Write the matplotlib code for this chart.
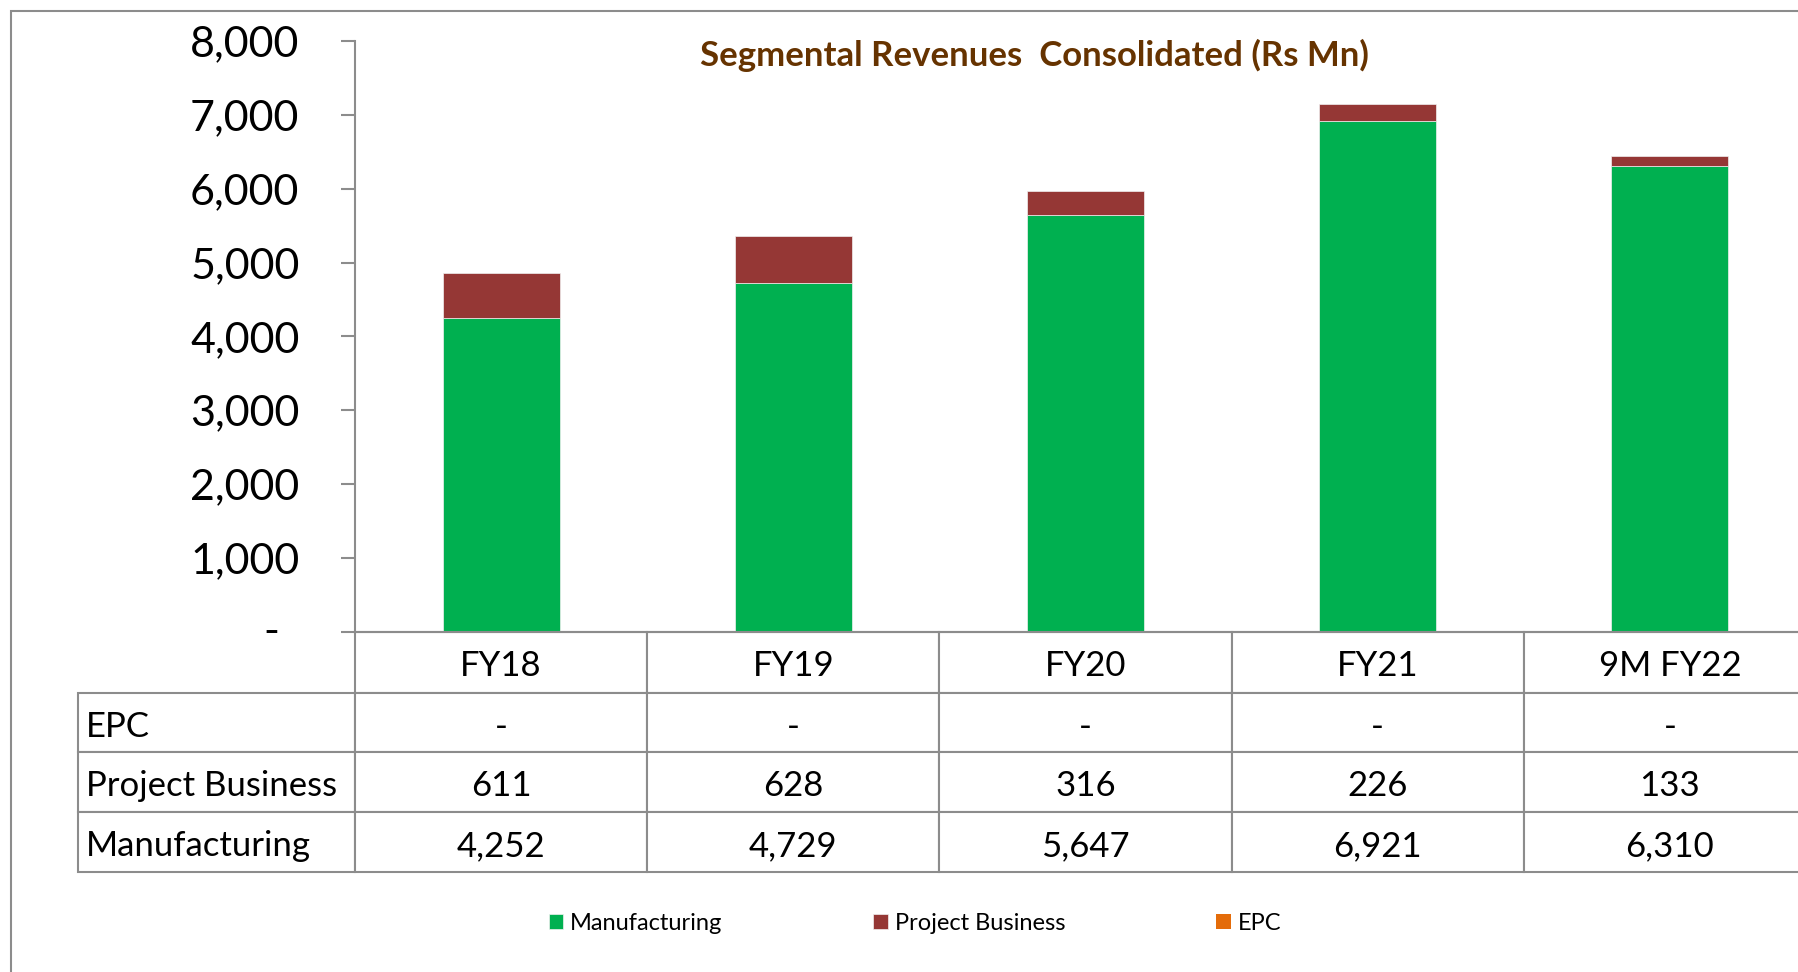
import matplotlib
matplotlib.use('Agg')
import matplotlib.pyplot as plt
import matplotlib.transforms as mtransforms
from matplotlib.patches import Rectangle
from matplotlib.table import Table
import numpy as np

plt.rcParams['font.family'] = ['Lato', 'DejaVu Sans']

# Data
# ----------------------------------------------------------------------------

categories = ['FY18', 'FY19', 'FY20', 'FY21', '9M FY22']
manufacturing = [4252, 4729, 5647, 6921, 6310]
project_business = [611, 628, 316, 226, 133]
epc = [0, 0, 0, 0, 0]

series_names = ['Manufacturing', 'Project Business', 'EPC']
colors = ['#00B050', '#953735', '#E46C0A']

yticks = [0, 1000, 2000, 3000, 4000, 5000, 6000, 7000, 8000]
title = 'Segmental Revenues  Consolidated (Rs Mn)'

# Plot
# ----------------------------------------------------------------------------

W, H = 1798, 972
fig = plt.figure(figsize=(W / 100, H / 100), dpi=100)

# outer frame of the chart area
fig.add_artist(Rectangle((11 / W, -0.1), 1.2, 1.1 - 11 / H, transform=fig.transFigure,
                         fill=False, edgecolor='#8c8c8c', linewidth=1.5))

ax_l, ax_r, ax_t, ax_b = 355, 1816, 41, 631.7
ax = fig.add_axes([ax_l / W, 1 - ax_b / H, (ax_r - ax_l) / W, (ax_b - ax_t) / H])

x = np.arange(len(categories))
mf = np.array(manufacturing)
pb = np.array(project_business)
ep = np.array(epc)

b1 = ax.bar(x, mf, width=0.4, color=colors[0], edgecolor='#f0f0f0', linewidth=0.5, label=series_names[0])
b2 = ax.bar(x, pb, width=0.4, bottom=mf, color=colors[1], edgecolor='#f0f0f0', linewidth=0.5, label=series_names[1])
b3 = ax.bar(x, ep, width=0.4, bottom=mf + pb, color=colors[2], linewidth=0, label=series_names[2])

ax.set_xlim(-0.5, len(categories) - 0.5)
ax.set_ylim(0, 8000)
ax.set_yticks(yticks)
ax.set_yticklabels(['' if v == 0 else f'{v:,}' for v in yticks])
ax.tick_params(axis='y', direction='out', length=10, width=1.5, color='#8c8c8c',
               pad=30, labelsize=31)
ax.tick_params(axis='x', length=0, labelbottom=False)
for s in ['top', 'right']:
    ax.spines[s].set_visible(False)
for s in ['left', 'bottom']:
    ax.spines[s].set_color('#8c8c8c')
    ax.spines[s].set_linewidth(1.5)

# zero label shown as a dash, as in accounting format
ax.annotate('-', xy=(0, 0), xycoords=ax.get_yaxis_transform(), xytext=(-60.5, 0),
            textcoords='offset points', ha='center', va='center', fontsize=31)

# data table below the chart
axh = ax_b - ax_t
aw = ax_r - ax_l
tab = Table(ax, bbox=[0, -(872.3 - ax_b) / axh, 1, (872.3 - ax_b) / axh])
col_w = 1 / len(categories)
lab_w = 277 / aw
head_h = 61 / axh
row_h = 60 / axh

rows = [('EPC', epc), ('Project Business', project_business), ('Manufacturing', manufacturing)]

for j, c in enumerate(categories):
    tab.add_cell(0, j, width=col_w, height=head_h, text=c, loc='center')
for i, (name, vals) in enumerate(rows, start=1):
    cell = tab.add_cell(i, -1, width=lab_w, height=row_h, text=name, loc='left')
    cell.PAD = 0.03
    for j, v in enumerate(vals):
        tab.add_cell(i, j, width=col_w, height=row_h, text='-' if v == 0 else f'{v:,}', loc='center')

tab.auto_set_font_size(False)
tab.set_fontsize(25)
# cell texts are placed in display pixels; nudge them down a little
shift = mtransforms.Affine2D().translate(0, -4)
for cell in tab.get_celld().values():
    cell.set_edgecolor('#8c8c8c')
    cell.set_linewidth(1.5)
    cell.get_text().set_va('center')
    cell.get_text().set_transform(shift)
ax.add_table(tab)

fig.text(1034 / W, 1 - 55 / H, title, ha='center', va='center', fontsize=25,
         fontweight='bold', color='#663300')

fig.legend([b1, b2, b3], series_names, loc='center', bbox_to_anchor=(915 / W, 1 - 923 / H),
           ncol=3, frameon=False, fontsize=17, handlelength=0.6, handleheight=0.6,
           handletextpad=0.3, columnspacing=6.4)

fig.savefig('out.png', dpi=100)
